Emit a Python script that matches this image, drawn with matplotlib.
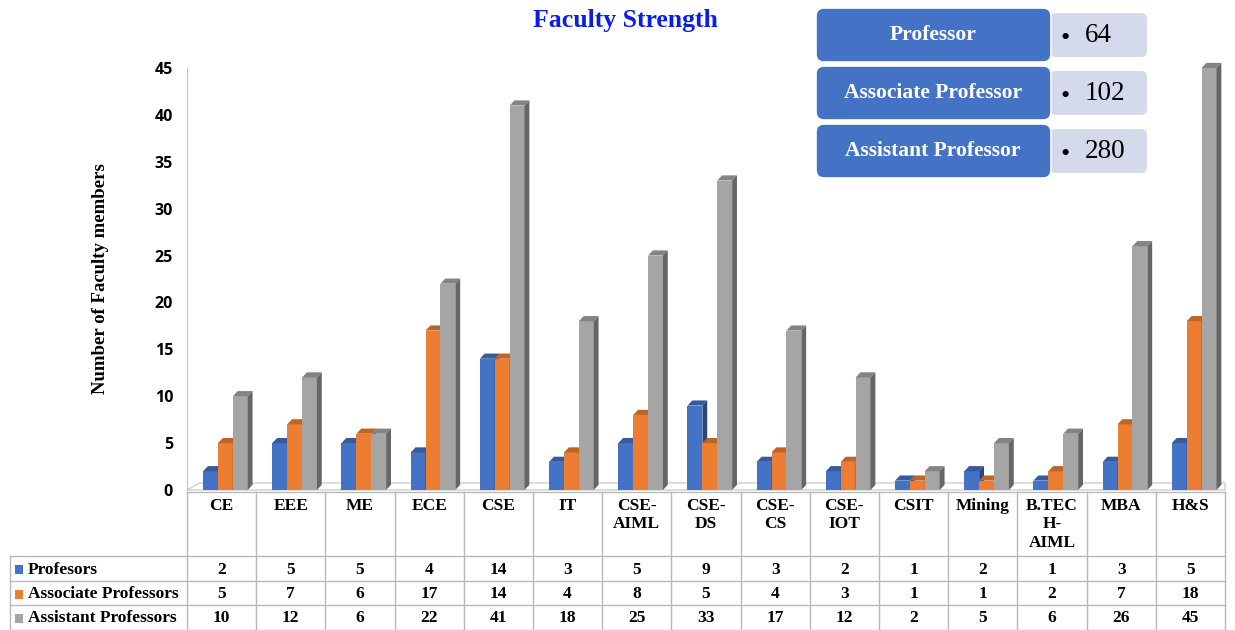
import numpy as np
import matplotlib
matplotlib.use("Agg")
import matplotlib.pyplot as plt
from matplotlib.patches import Polygon, FancyBboxPatch, Rectangle

# ------------------------------------------------------------------ data
departments = ["CE", "EEE", "ME", "ECE", "CSE", "IT", "CSE-\nAIML", "CSE-\nDS",
               "CSE-\nCS", "CSE-\nIOT", "CSIT", "Mining", "B.TEC\nH-\nAIML", "MBA", "H&S"]
series_names = ["Profesors", "Associate Professors", "Assistant Professors"]
professors = [2, 5, 5, 4, 14, 3, 5, 9, 3, 2, 1, 2, 1, 3, 5]
associate = [5, 7, 6, 17, 14, 4, 8, 5, 4, 3, 1, 1, 2, 7, 18]
assistant = [10, 12, 6, 22, 41, 18, 25, 33, 17, 12, 2, 5, 6, 26, 45]

summary_labels = ["Professor", "Associate Professor", "Assistant Professor"]
summary_values = [64, 102, 280]

colors = ["#4472c4", "#ed7d31", "#a5a5a5"]
serif = "Liberation Serif"

W, H = 1235, 630
fig = plt.figure(figsize=(W / 100, H / 100), dpi=100)

# pixel frame of the plot area
px_left, px_right, px_top, px_bottom = 187, 1225, 68, 490
ax = fig.add_axes([px_left / W, 1 - px_bottom / H,
                   (px_right - px_left) / W, (px_bottom - px_top) / H])
ax.set_facecolor("none")
n = len(departments)
ax.set_xlim(-0.5, n - 0.5)
ax.set_ylim(0, 45)
ax.set_yticks(range(0, 46, 5))
ax.set_yticklabels([str(v) for v in range(0, 46, 5)], fontfamily="Open Sans",
                   fontweight="bold", fontsize=11.5)
ax.tick_params(axis="y", length=0, pad=10)
ax.set_xticks([])
for s in ["top", "right", "bottom"]:
    ax.spines[s].set_visible(False)
ax.spines["left"].set_color("#bfbfbf")

# floor
dxf, dyf = 0.18, 0.75
ax.add_patch(Polygon([(-0.5, 0), (-0.5 + dxf, dyf), (n - 0.5, dyf), (n - 0.5, 0)],
                     closed=True, facecolor="white", edgecolor="#cfcfcf", lw=1,
                     clip_on=False, zorder=1))

# 3d-looking bars
bw = 0.215
offsets = [-0.16, 0.055, 0.27]
ddx, ddy = 0.07, 0.55


def shade(c, f):
    r, g, b = matplotlib.colors.to_rgb(c)
    return (r * f, g * f, b * f)


x = np.arange(n)
for k, vals in enumerate([professors, associate, assistant]):
    bars = ax.bar(x + offsets[k], vals, width=bw, color=colors[k], zorder=3 + k)
    for b in bars:
        x0 = b.get_x()
        x1 = x0 + b.get_width()
        h = b.get_height()
        top = Polygon([(x0, h), (x0 + ddx, h + ddy), (x1 + ddx, h + ddy), (x1, h)],
                      closed=True, facecolor=shade(colors[k], 0.8), lw=0,
                      zorder=3 + k, clip_on=False)
        side = Polygon([(x1, 0), (x1 + ddx, ddy), (x1 + ddx, h + ddy), (x1, h)],
                       closed=True, facecolor=shade(colors[k], 0.62), lw=0,
                       zorder=3 + k, clip_on=False)
        ax.add_patch(top)
        ax.add_patch(side)

ax.set_ylabel("Number of Faculty members", fontfamily=serif, fontweight="bold",
              fontsize=13.5, labelpad=33)

# ------------------------------------------------------------------ overlay (pixels)
ov = fig.add_axes([0, 0, 1, 1], zorder=-1)
ov.set_xlim(0, W)
ov.set_ylim(H, 0)
ov.axis("off")

fig.text(625 / W, 1 - 20 / H, "Faculty Strength", color="#0a1ee6", fontfamily=serif,
         fontweight="bold", fontsize=18.5, ha="center", va="center")

# data table
col_w = (px_right - px_left) / n
line_c = "#b8b8b8"
row_y = [556, 581, 605, 630]
ov.plot([px_left, px_right], [492, 492], color=line_c, lw=1)
for yy in row_y:
    ov.plot([10, px_right], [yy, yy], color=line_c, lw=1)
ov.plot([10, 10], [556, 630], color=line_c, lw=1)
for i in range(n + 1):
    xx = px_left + i * col_w
    ov.plot([xx, xx], [492, 630], color=line_c, lw=1)

for i, name in enumerate(departments):
    ov.text(px_left + (i + 0.5) * col_w, 498, name, ha="center", va="top",
            fontfamily=serif, fontweight="bold", fontsize=12.5, linespacing=1.2)

for k, (sname, vals) in enumerate(zip(series_names,
                                      [professors, associate, assistant])):
    yc = (row_y[k] + row_y[k + 1]) / 2 + 1
    ov.add_patch(Rectangle((15, yc - 4.5), 8, 9, facecolor=colors[k], lw=0))
    ov.text(28, yc, sname, ha="left", va="center", fontfamily=serif,
            fontweight="bold", fontsize=12.5)
    for i, v in enumerate(vals):
        ov.text(px_left + (i + 0.5) * col_w, yc, str(v), ha="center", va="center",
                fontfamily=serif, fontweight="bold", fontsize=12.5)

# summary boxes
box_tops = [8, 66, 124]
for k, (lab, val) in enumerate(zip(summary_labels, summary_values)):
    y0 = box_tops[k]
    ov.add_patch(FancyBboxPatch((1050, y0 + 5), 97, 44,
                                boxstyle="round,pad=0,rounding_size=6",
                                facecolor="#d4d9ec", lw=0, zorder=2))
    ov.add_patch(FancyBboxPatch((816, y0), 235, 54,
                                boxstyle="round,pad=0,rounding_size=8",
                                facecolor="#4472c4", edgecolor="white", lw=1.2,
                                zorder=3))
    ov.text(933, y0 + 27, lab, color="white", ha="center", va="center",
            fontfamily=serif, fontweight="bold", fontsize=15.5, zorder=4)
    ov.text(1061, y0 + 31, "\u2022", ha="left", va="center", fontfamily=serif,
            fontsize=19, zorder=4)
    ov.text(1085, y0 + 27, str(val), ha="left", va="center", fontfamily=serif,
            fontsize=19.5, zorder=4)

fig.savefig("out.png", dpi=100)
